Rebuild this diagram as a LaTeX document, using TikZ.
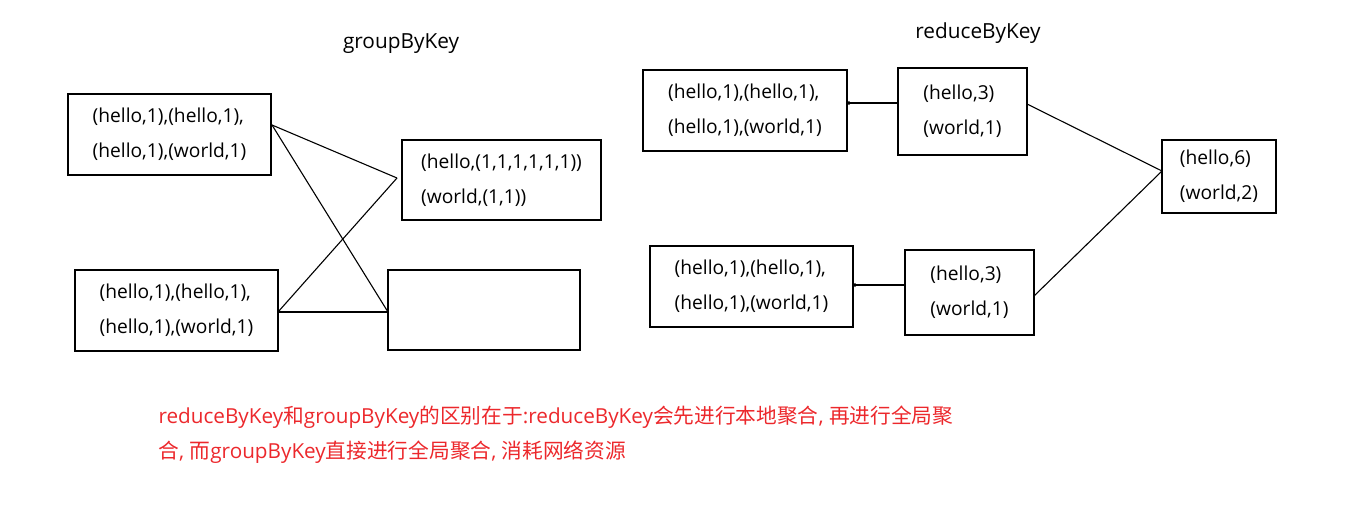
\documentclass[tikz,border=0pt]{standalone}
\usepackage{fontspec}
\setmainfont{Open Sans}
\newfontfamily\cjk{Noto Sans CJK SC}
\usetikzlibrary{arrows.meta}
\definecolor{notered}{RGB}{236,40,44}
\tikzset{
  kv/.style={draw, line width=1.3pt, align=left, inner sep=0pt, font=\fontsize{19.2}{35}\selectfont},
  ttl/.style={font=\fontsize{20.8}{24}\selectfont},
  link/.style={line width=1.1pt}
}
\begin{document}
\begin{tikzpicture}[x=1pt,y=-1pt]
\useasboundingbox (0,0) rectangle (1355,506);
% groupByKey side
\node[ttl] (gtitle) at (401,44) {groupByKey};
\node[kv, minimum width=203pt, minimum height=81pt] (g1) at (169.5,134.5) {(hello,1),(hello,1),\\(hello,1),(world,1)};
\node[kv, minimum width=203pt, minimum height=81pt] (g2) at (176.5,310.5) {(hello,1),(hello,1),\\(hello,1),(world,1)};
\node[kv, minimum width=199pt, minimum height=80pt] (g3) at (501.5,180) {(hello,(1,1,1,1,1,1))\\(world,(1,1))};
\node[kv, minimum width=192pt, minimum height=80pt] (g4) at (484,310) {};
\coordinate (g1out) at (272,125);
\coordinate (g2out) at (278,312);
\coordinate (g3in) at (397,178);
\coordinate (g4in) at (388,312);
\draw[link] (g1out) -- (g3in);
\draw[link] (g1out) -- (g4in);
\draw[link] (g2out) -- (g3in);
\draw[link] (g2out) -- (g4in);
% reduceByKey side
\node[ttl] (rtitle) at (978,33) {reduceByKey};
\node[kv, minimum width=204pt, minimum height=81pt] (r1) at (745,110.5) {(hello,1),(hello,1),\\(hello,1),(world,1)};
\node[kv, minimum width=129pt, minimum height=87pt] (r2) at (962.5,111.5) {(hello,3)\\(world,1)};
\node[kv, minimum width=114pt, minimum height=73pt] (r3) at (1219,176.5) {(hello,6)\\(world,2)};
\node[kv, minimum width=203pt, minimum height=81pt] (r4) at (751.5,286.5) {(hello,1),(hello,1),\\(hello,1),(world,1)};
\node[kv, minimum width=129pt, minimum height=85pt] (r5) at (969.5,292.5) {(hello,3)\\(world,1)};
\coordinate (r2out) at (1027,104);
\coordinate (r5out) at (1034,296);
\coordinate (r3in) at (1162,171);
\draw[link, -{To[length=2pt]}] (r2.west |- 0,103) -- (r1.east |- 0,103);
\draw[link, -{To[length=2pt]}] (r5.west |- 0,285) -- (r4.east |- 0,285);
\draw[link] (r2out) -- (r3in);
\draw[link] (r5out) -- (r3in);
% note
\node[anchor=west, align=left, text=notered, font=\fontsize{20.7}{35}\selectfont] (note) at (155,434.5)
  {reduceByKey{\cjk 和}groupByKey{\cjk 的区别在于}:reduceByKey{\cjk 会先进行本地聚合}, {\cjk 再进行全局聚}\\
   {\cjk 合}, {\cjk 而}groupByKey{\cjk 直接进行全局聚合}, {\cjk 消耗网络资源}};
\end{tikzpicture}
\end{document}
